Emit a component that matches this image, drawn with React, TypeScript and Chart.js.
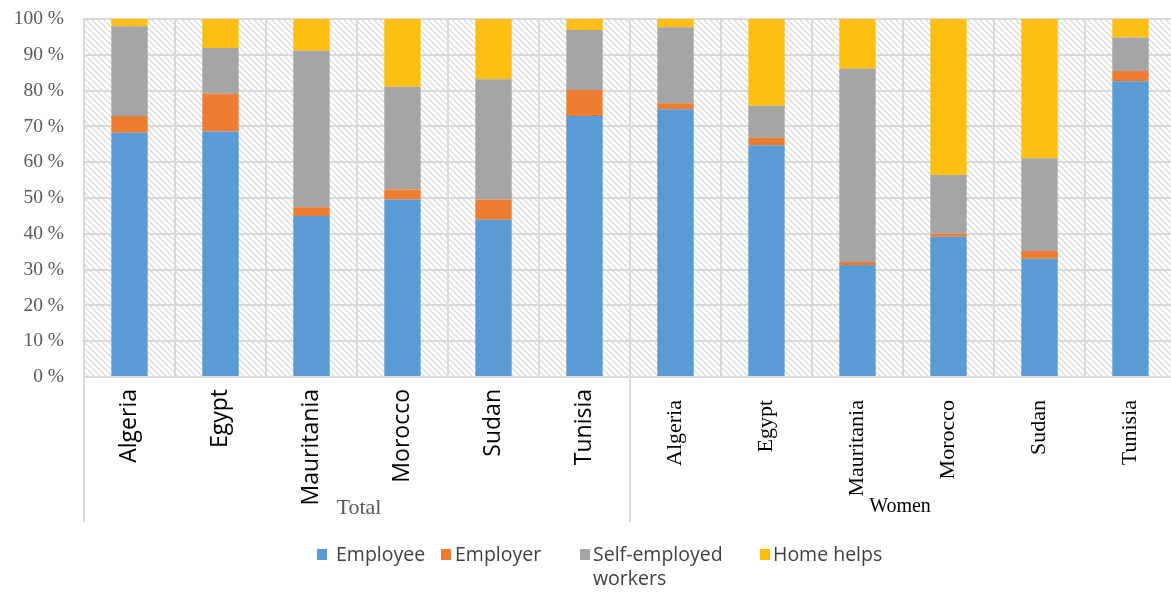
import React, { useEffect, useRef } from 'react';
import { Chart, registerables } from 'chart.js';

Chart.register(...registerables);

// ---- data ----
const countries = ['Algeria', 'Egypt', 'Mauritania', 'Morocco', 'Sudan', 'Tunisia'];
const groupNames = ['Total', 'Women'];
const seriesNames = ['Employee', 'Employer', 'Self-employed workers', 'Home helps'];
const seriesColors = ['#5b9bd5', '#ed7d31', '#a5a5a5', '#fcbf12'];

const totalEmployee = [68.2, 68.6, 45.0, 49.6, 43.9, 72.9];
const totalEmployer = [4.7, 10.5, 2.4, 2.8, 5.7, 7.3];
const totalSelfEmployed = [25.1, 12.8, 43.7, 28.7, 33.6, 16.7];
const totalHomeHelps = [2.0, 8.1, 8.9, 18.9, 16.8, 3.1];

const womenEmployee = [74.8, 64.7, 31.3, 39.2, 33.0, 82.6];
const womenEmployer = [1.7, 2.1, 0.8, 0.8, 2.2, 2.9];
const womenSelfEmployed = [21.2, 9.0, 54.0, 16.4, 25.9, 9.3];
const womenHomeHelps = [2.3, 24.2, 13.9, 43.6, 38.9, 5.2];

const yTickValues = [0, 10, 20, 30, 40, 50, 60, 70, 80, 90, 100];
const yTickLabels = ['0 %', '10 %', '20 %', '30 %', '40 %', '50 %', '60 %', '70 %', '80 %', '90 %', '100 %'];

const SERIF = "'Liberation Serif', 'DejaVu Serif', serif";
const SANS = "'Open Sans', 'Noto Sans', sans-serif";
const GRID = '#d9d9d9';

function makePattern(ctx: CanvasRenderingContext2D) {
  const s = 6;
  const tile = document.createElement('canvas');
  tile.width = s;
  tile.height = s;
  const t = tile.getContext('2d')!;
  t.fillStyle = '#ffffff';
  t.fillRect(0, 0, s, s);
  t.strokeStyle = '#d6d6d6';
  t.lineWidth = 1.1;
  t.beginPath();
  t.moveTo(0, 0);
  t.lineTo(s, s);
  t.moveTo(-1, s - 1);
  t.lineTo(1, s + 1);
  t.moveTo(s - 1, -1);
  t.lineTo(s + 1, 1);
  t.stroke();
  return ctx.createPattern(tile, 'repeat');
}

const decorPlugin = {
  id: 'decor',
  afterLayout(chart: any) {
    // let the upper label axis share the full label band so its labels are not clipped
    const x = chart.scales.x;
    const x2 = chart.scales.x2;
    if (x && x2) x.bottom = x2.bottom;
  },
  beforeDraw(chart: any) {
    const { ctx, chartArea } = chart;
    ctx.save();
    const pat = makePattern(ctx);
    if (pat) ctx.fillStyle = pat;
    ctx.fillRect(chartArea.left, chartArea.top, chartArea.right - chartArea.left, chartArea.bottom - chartArea.top);
    ctx.restore();
  },
  afterDraw(chart: any) {
    const { ctx, chartArea } = chart;
    const x = chart.scales.x;
    const n = countries.length;
    ctx.save();
    // group dividers
    ctx.strokeStyle = GRID;
    ctx.lineWidth = 2;
    const step = x.getPixelForValue(1) - x.getPixelForValue(0);
    const bounds = [x.getPixelForValue(0) - step / 2, x.getPixelForValue(n) - step / 2];
    bounds.forEach((bx) => {
      ctx.beginPath();
      ctx.moveTo(bx, chartArea.bottom);
      ctx.lineTo(bx, 522);
      ctx.stroke();
    });
    // group labels
    ctx.textAlign = 'center';
    ctx.textBaseline = 'middle';
    const g0 = (x.getPixelForValue(0) + x.getPixelForValue(n - 1)) / 2;
    const g1 = (x.getPixelForValue(n) + x.getPixelForValue(2 * n - 1)) / 2;
    ctx.fillStyle = '#595959';
    ctx.font = `22px ${SERIF}`;
    ctx.fillText(groupNames[0], g0 + 2, 508);
    ctx.fillStyle = '#000000';
    ctx.font = `20px ${SERIF}`;
    ctx.fillText(groupNames[1], g1 - 3, 507);

    // legend
    const boxX = [317, 441, 580, 760];
    const textX = [336, 455, 593, 773];
    ctx.font = `19.5px ${SANS}`;
    ctx.textAlign = 'left';
    ctx.textBaseline = 'middle';
    seriesNames.forEach((name, i) => {
      ctx.fillStyle = seriesColors[i];
      ctx.fillRect(boxX[i], 549, 10, 11);
      ctx.fillStyle = '#404040';
      if (name === 'Self-employed workers') {
        ctx.fillText('Self-employed', textX[i], 555);
        ctx.fillText('workers', textX[i], 579);
      } else {
        ctx.fillText(name, textX[i], 555);
      }
    });
    ctx.restore();
  },
};

export default function App() {
  const ref = useRef<HTMLCanvasElement | null>(null);
  useEffect(() => {
    if (!ref.current) return;
    const labels = [...countries, ...countries];
    const n = countries.length;
    const chart = new Chart(ref.current, {
      type: 'bar',
      data: {
        labels,
        datasets: [
          { label: seriesNames[0], data: [...totalEmployee, ...womenEmployee], backgroundColor: seriesColors[0] },
          { label: seriesNames[1], data: [...totalEmployer, ...womenEmployer], backgroundColor: seriesColors[1] },
          { label: seriesNames[2], data: [...totalSelfEmployed, ...womenSelfEmployed], backgroundColor: seriesColors[2] },
          { label: seriesNames[3], data: [...totalHomeHelps, ...womenHomeHelps], backgroundColor: seriesColors[3] },
        ],
      },
      options: {
        animation: false,
        responsive: false,
        maintainAspectRatio: false,
        layout: { padding: { left: 0, top: 19, right: 14, bottom: 0 } },
        datasets: { bar: { categoryPercentage: 1, barPercentage: 0.4, borderWidth: 0 } },
        plugins: { legend: { display: false }, tooltip: { enabled: false } },
        scales: {
          x: {
            stacked: true,
            weight: 0,
            grid: { color: GRID, lineWidth: 2, offset: true, drawTicks: false },
            border: { color: GRID, width: 2 },
            ticks: {
              autoSkip: false,
              maxRotation: 90,
              minRotation: 90,
              padding: 12,
              color: '#000000',
              font: { family: SANS, size: 23 },
              callback: (_v: any, i: number) => (i < n ? labels[i] : ''),
            },
            afterFit: (s: any) => { s.height = 0; },
          },
          x2: {
            type: 'category',
            position: 'bottom',
            weight: 1,
            offset: true,
            grid: { display: false, drawTicks: false },
            border: { display: false },
            ticks: {
              autoSkip: false,
              maxRotation: 90,
              minRotation: 90,
              padding: 23,
              color: '#000000',
              font: { family: SERIF, size: 22 },
              callback: (_v: any, i: number) => (i >= n ? labels[i] : ''),
            },
            afterFit: (s: any) => { s.height = 215; },
          },
          y: {
            stacked: true,
            min: 0,
            max: 100,
            grid: { color: GRID, lineWidth: 2, drawTicks: true, tickLength: 20, tickColor: 'rgba(0,0,0,0)' },
            border: { color: GRID, width: 2 },
            afterBuildTicks: (s: any) => { s.ticks = yTickValues.map((v) => ({ value: v })); },
            ticks: {
              padding: 0,
              color: '#595959',
              font: { family: SERIF, size: 19.5 },
              callback: (v: any) => yTickLabels[yTickValues.indexOf(Number(v))],
            },
            afterFit: (s: any) => { s.width = 84; },
          },
        },
      },
      plugins: [decorPlugin],
    });
    return () => chart.destroy();
  }, []);

  return (
    <div style={{ position: 'absolute', left: 0, top: 0, width: 1171, height: 592, overflow: 'hidden', background: '#fff' }}>
      <canvas ref={ref} width={1190} height={592} style={{ display: 'block' }} />
    </div>
  );
}
